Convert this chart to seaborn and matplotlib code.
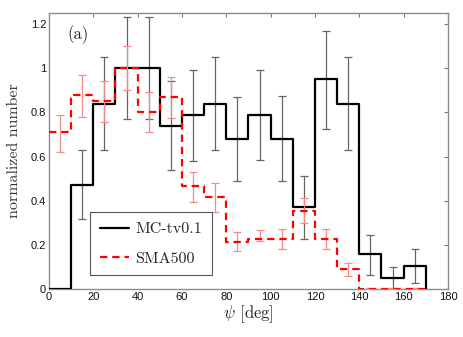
import numpy as np
import pandas as pd
import matplotlib
matplotlib.use('Agg')
import matplotlib.pyplot as plt
import seaborn as sns

# bin edges (deg) and bin centres
edges = [0, 10, 20, 30, 40, 50, 60, 70, 80, 90, 100, 110, 120, 130, 140, 150, 160, 170]
centers = [5, 15, 25, 35, 45, 55, 65, 75, 85, 95, 105, 115, 125, 135, 145, 155, 165]

# MC-tv0.1 histogram and error bar ranges
mc_vals = [0, 0.47, 0.84, 1.0, 1.0, 0.74, 0.79, 0.84, 0.68, 0.79, 0.68, 0.37, 0.95, 0.84, 0.16, 0.05, 0.105]
mc_lo = [np.nan, 0.315, 0.63, 0.77, 0.77, 0.54, 0.58, 0.63, 0.49, 0.585, 0.49, 0.227, 0.724, 0.63, 0.064, 0.0, 0.027]
mc_hi = [np.nan, 0.63, 1.05, 1.23, 1.23, 0.94, 0.99, 1.05, 0.87, 0.99, 0.875, 0.51, 1.17, 1.05, 0.245, 0.10, 0.18]

# SMA500 histogram and error bar ranges
sma_vals = [0.71, 0.88, 0.85, 1.0, 0.80, 0.87, 0.465, 0.415, 0.215, 0.225, 0.225, 0.355, 0.225, 0.09, 0.0, 0.0, 0.0]
sma_lo = [0.62, 0.78, 0.755, 0.90, 0.71, 0.775, 0.395, 0.35, 0.17, 0.216, 0.18, 0.30, 0.18, 0.059, 0.0, 0.0, 0.0]
sma_hi = [0.79, 0.97, 0.94, 1.10, 0.89, 0.96, 0.53, 0.48, 0.26, 0.266, 0.27, 0.41, 0.27, 0.118, 0.003, 0.003, 0.003]

sns.set_style("white")
plt.rcParams['mathtext.fontset'] = 'cm'
serif = 'cmr10'

fig = plt.figure(figsize=(4.63, 3.37), dpi=100)
ax = fig.add_axes([49 / 463, (337 - 289) / 337, 399 / 463, 276 / 337])

# step lines: append the closing point at 170 deg
mc_df = pd.DataFrame({'x': edges, 'y': mc_vals + [0]})
sma_df = pd.DataFrame({'x': edges, 'y': sma_vals + [0]})


def errs(vals, lo, hi):
    v = np.array(vals)
    return [v - np.array(lo), np.array(hi) - v]


ax.errorbar(centers, mc_vals, yerr=errs(mc_vals, mc_lo, mc_hi), fmt='none',
            ecolor='#666666', elinewidth=0.9, capsize=3, capthick=0.9, zorder=2)
sns.lineplot(data=mc_df, x='x', y='y', drawstyle='steps-post', color='black',
             linewidth=1.6, ax=ax, zorder=3, label='MC-tv0.1')
ax.errorbar(centers, sma_vals, yerr=errs(sma_vals, sma_lo, sma_hi), fmt='none',
            ecolor='#f58a8a', elinewidth=0.9, capsize=3, capthick=0.9, zorder=4)
sns.lineplot(data=sma_df, x='x', y='y', drawstyle='steps-post', color='#ff0000',
             linewidth=1.6, linestyle=(0, (3.3, 2.2)), ax=ax, zorder=5, label='SMA500')

ax.set_xlim(0, 180)
ax.set_ylim(0, 1.25)
ax.set_xticks(range(0, 181, 20))
ax.set_yticks([0, 0.2, 0.4, 0.6, 0.8, 1.0, 1.2])
ax.set_yticklabels(['0', '0.2', '0.4', '0.6', '0.8', '1', '1.2'])
ax.tick_params(direction='in', length=3, color='#777777', labelsize=8,
               labelcolor='#111111', top=True, right=True, pad=2)
for lab in ax.get_xticklabels() + ax.get_yticklabels():
    lab.set_fontfamily('Liberation Sans')
for s in ax.spines.values():
    s.set_color('#8c8c8c')
    s.set_linewidth(1.0)

ax.set_xlabel(r'$\psi$ [deg]', fontfamily=serif, fontsize=12, labelpad=1, color='#222222')
ax.set_ylabel('normalized number', fontfamily=serif, fontsize=11.5, labelpad=7, color='#333333')
ax.text(0.045, 0.92, '(a)', transform=ax.transAxes, fontfamily=serif, fontsize=12,
        va='center', ha='left', color='#222222')

leg = ax.legend(loc='lower left', bbox_to_anchor=(0.103, 0.05), borderaxespad=0,
                fancybox=False, framealpha=1, edgecolor='#555555',
                prop={'family': serif, 'size': 11.5},
                handlelength=1.85, borderpad=0.6, labelspacing=0.95, handletextpad=0.4)
leg.get_frame().set_linewidth(0.8)

fig.savefig('out.png', dpi=100)
